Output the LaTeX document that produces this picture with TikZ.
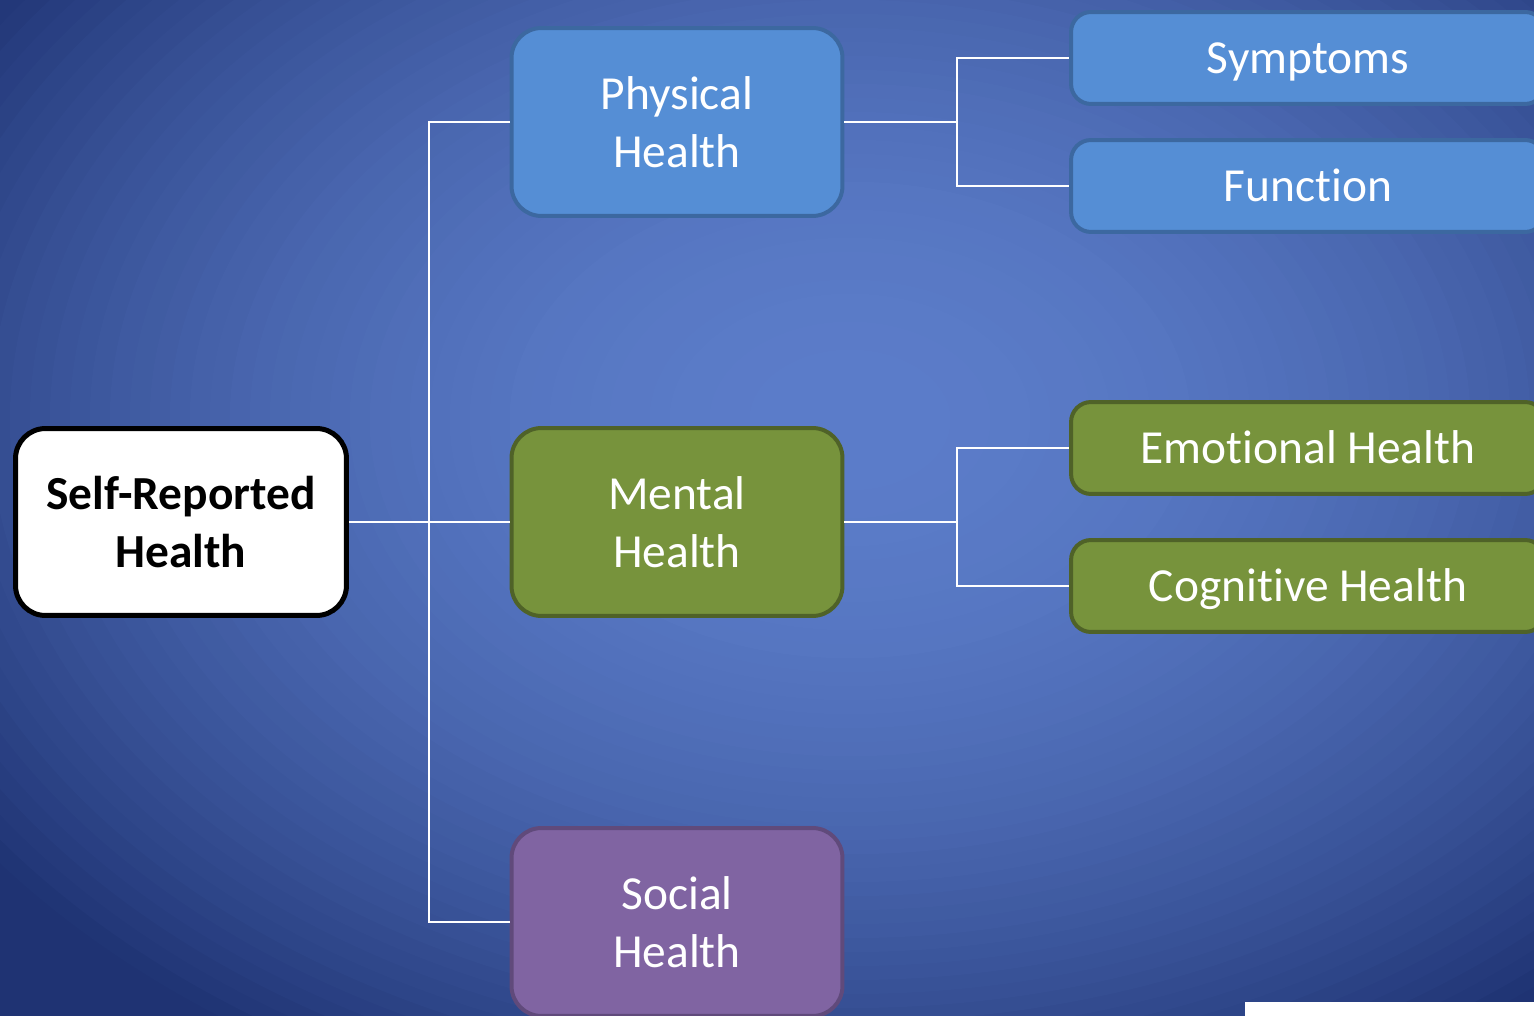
\documentclass[tikz,border=0pt]{standalone}
\usepackage{fontspec}
\setmainfont{Carlito}[Ligatures=NoCommon]
\usetikzlibrary{positioning,calc}

\definecolor{physfill}{RGB}{85,142,213}
\definecolor{physline}{RGB}{60,104,160}
\definecolor{mentfill}{RGB}{119,147,60}
\definecolor{mentline}{RGB}{79,98,40}
\definecolor{socfill}{RGB}{128,100,162}
\definecolor{socline}{RGB}{96,74,123}
\definecolor{bgin}{rgb}{0.36,0.49,0.79}
\definecolor{bgout}{rgb}{0.12,0.20,0.45}

\tikzstyle{box} = [rounded corners=0.6cm, line width=0.08cm, align=center,
  minimum width=6.62cm, minimum height=3.76cm, inner sep=0pt,
  text=white, font=\fontsize{27}{33}\selectfont]
\tikzstyle{leaf} = [box, rounded corners=0.4cm, minimum width=9.48cm, minimum height=1.84cm,
  text height=17.4pt, text depth=0pt]
\tikzstyle{edge} = [draw=white, line width=0.04cm]

\begin{document}
\begin{tikzpicture}[x=0.02cm, y=-0.02cm]
\useasboundingbox (0,0) rectangle (1534,1016);
\clip (0,0) rectangle (1534,1016);
% backdrop: dark rim, light spot round (850,420)
\fill[bgout] (0,0) rectangle (1534,1016);
\foreach \f in {1.40,1.38,...,0.01} {
	\pgfmathtruncatemacro\w{100*max(0,1-(\f/1.08)^2)}
	\fill[bgin!\w!bgout] (850,420) ellipse [x radius=\f*20cm, y radius=\f*14cm];
}

	\node[box, fill=white, draw=black, line width=0.1cm, text=black, minimum height=3.74cm,
	  font=\fontsize{27}{33}\selectfont\bfseries] (self) at (181, 522) {Self-Reported\\Health};
	\node[box, fill=physfill, draw=physline] (phys) at (677, 122) {Physical\\Health};
	\node[box, fill=mentfill, draw=mentline] (ment) at (677, 522) {Mental\\Health};
	\node[box, fill=socfill, draw=socline] (soc) at (677, 922) {Social\\Health};

	\node[leaf, fill=physfill, draw=physline] (symp) at (1308, 58) {Symptoms};
	\node[leaf, fill=physfill, draw=physline] (func) at (1308, 186) {Function};
	\node[leaf, fill=mentfill, draw=mentline] (emo) at (1308, 448) {Emotional Health};
	\node[leaf, fill=mentfill, draw=mentline] (cog) at (1308, 586) {Cognitive Health};

	\coordinate (trunk) at (429, 522);
	\coordinate (physfork) at (957, 122);
	\coordinate (mentfork) at (957, 522);

	\draw[edge] (self.east) -- (trunk) |- (phys.west);
	\draw[edge] (trunk) |- (soc.west);
	\draw[edge] (trunk) -- (ment.west);

	\draw[edge] (phys.east) -- (physfork) |- (symp.west);
	\draw[edge] (physfork) |- (func.west);
	\draw[edge] (ment.east) -- (mentfork) |- (emo.west);
	\draw[edge] (mentfork) |- (cog.west);

	\fill[white] (1245, 1002) rectangle (1534, 1016);
\end{tikzpicture}
\end{document}
